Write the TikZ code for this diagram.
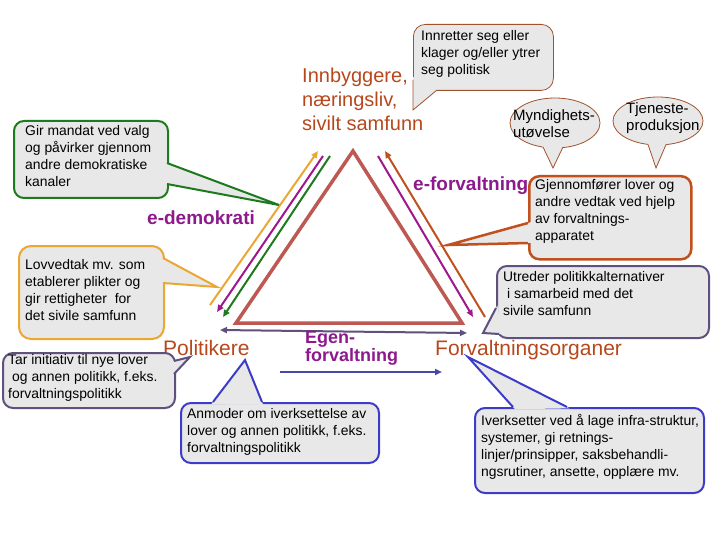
\documentclass[tikz,border=0pt]{standalone}
\usepackage{fontspec}
\setmainfont{Liberation Sans}
\usetikzlibrary{arrows.meta,calc,shapes.geometric}
\definecolor{cfill}{RGB}{232,232,232}
\definecolor{tri}{RGB}{190,88,82}
\definecolor{orng}{RGB}{236,166,50}
\definecolor{magn}{RGB}{160,22,140}
\definecolor{grn}{RGB}{30,122,30}
\definecolor{brn}{RGB}{192,80,28}
\definecolor{pgr}{RGB}{95,80,125}
\definecolor{blu}{RGB}{60,60,200}
\definecolor{blu2}{RGB}{72,72,168}
\definecolor{thinbr}{RGB}{160,82,45}
\definecolor{lbl}{RGB}{182,72,28}
\definecolor{pur}{RGB}{140,26,140}
\newcommand{\callptr}[5]{%
  \fill[cfill] ($(#3)!-3pt!(#4)$) -- (#4) -- ($(#5)!-3pt!(#4)$) -- cycle;
  \draw[#1,line width=#2,line join=miter] (#3) -- (#4) -- (#5);}
\begin{document}
\begin{tikzpicture}[x=1pt,y=-1pt,
  txt/.style={font=\fontsize{13.9}{16.8}\selectfont, align=left, inner sep=0pt, anchor=north west, text=black},
  etxt/.style={font=\fontsize{15}{17}\selectfont, align=left, inner sep=0pt, anchor=north west, text=black},
  cbox/.style={rectangle, rounded corners=10pt, fill=cfill, line width=2pt, inner sep=0pt, anchor=north west},
  ebox/.style={ellipse, fill=cfill, draw=thinbr, line width=0.8pt, inner sep=0pt},
  biglbl/.style={font=\fontsize{21}{24}\selectfont, text=lbl, inner sep=0pt, anchor=base west, align=left},
  purp/.style={font=\bfseries\fontsize{19}{17}\selectfont, text=pur, inner sep=0pt, anchor=base west, align=left},
  arr/.style={line width=2pt, -{Triangle[length=7pt,width=6pt]}},
  darr/.style={line width=2pt, {Triangle[length=7pt,width=6pt]}-{Triangle[length=7pt,width=6pt]}},
]
\useasboundingbox (0,0) rectangle (720,540);

% triangle
\coordinate (A) at (353,151);
\coordinate (BL) at (236,323);
\coordinate (BR) at (462,323);
\draw[tri, line width=3.5pt, line join=miter] (A) -- (BL) -- (BR) -- cycle;

% left side arrows
\coordinate (o1) at (210,305); \coordinate (o2) at (318,151);
\coordinate (m1) at (323,156); \coordinate (m2) at (217,312);
\coordinate (g1) at (330,156); \coordinate (g2) at (223,317);
\draw[arr, orng] (o1) -- (o2);
\draw[arr, magn] (m1) -- (m2);
\draw[arr, grn] (g1) -- (g2);
% right side arrows
\coordinate (rm1) at (378,156); \coordinate (rm2) at (473,317);
\coordinate (rb1) at (485,317); \coordinate (rb2) at (385,151);
\draw[arr, magn] (rm1) -- (rm2);
\draw[arr, brn] (rb1) -- (rb2);
% bottom arrows
\coordinate (p1) at (220,330); \coordinate (p2) at (467,333);
\draw[darr, pgr] (p1) -- (p2);
\coordinate (q1) at (280,372); \coordinate (q2) at (442,372);
\draw[arr, blu2] (q1) -- (q2);

% labels
\node[biglbl, font=\fontsize{20}{24}\selectfont, anchor=north west] (innb) at (302,68) {Innbyggere,\\næringsliv,\\sivilt samfunn};
\node[purp] (edem) at (147,225) {e-demokrati};
\node[purp] (eforv) at (413,191) {e-forvaltning};
\node[biglbl] (pol) at (163,355) {Politikere};
\node[purp, font=\bfseries\fontsize{18}{16.5}\selectfont, anchor=north west] (egen) at (305,331) {Egen-\\forvaltning};
\node[biglbl] (forv) at (435,355) {Forvaltningsorganer};

% green callout
\node[cbox, draw=grn, minimum width=154pt, minimum height=77pt] (gbox) at (13,120) {};
\coordinate (gtip) at (279,205);
\callptr{grn}{2pt}{167,163}{gtip}{167,184}
\node[txt] (gtxt) at (25,125.5) {Gir mandat ved valg\\og påvirker gjennom\\andre demokratiske\\kanaler};

% top callout
\node[cbox, draw=thinbr, line width=0.8pt, rounded corners=12pt, minimum width=140pt, minimum height=66pt] (tbox) at (413,24) {};
\coordinate (ttip) at (413,110);
\callptr{thinbr}{0.8pt}{413,80}{ttip}{437,90}
\node[txt] (ttxt) at (421,30.5) {Innretter seg eller\\klager og/eller ytrer\\seg politisk};

% ellipses
\node[ebox, minimum width=90pt, minimum height=50pt] (mell) at (555,123) {};
\coordinate (mtip) at (553,168);
\callptr{thinbr}{0.8pt}{543,147}{mtip}{563,147}
\node[etxt] (mtxt) at (513,109) {Myndighets-\\utøvelse};
\node[ebox, minimum width=90pt, minimum height=48pt] (tell) at (658,121) {};
\coordinate (tjtip) at (656,168);
\callptr{thinbr}{0.8pt}{648,144.4}{tjtip}{666,144.6}
\node[etxt] (tjtxt) at (626,102) {Tjeneste-\\produksjon};

% Gjennomfoerer callout
\node[cbox, draw=brn, line width=2.5pt, minimum width=162pt, minimum height=83pt] (gjbox) at (528,175) {};
\coordinate (gjtip) at (448,245);
\callptr{brn}{2.5pt}{528,223}{gjtip}{528,243}
\node[txt] (gjtxt) at (535,179.5) {Gjennomfører lover og\\andre vedtak ved hjelp\\av forvaltnings-\\apparatet};

% Utreder callout
\node[cbox, draw=pgr, minimum width=212pt, minimum height=72pt] (utbox) at (496,265) {};
\coordinate (uttip) at (483,333);
\callptr{pgr}{2pt}{496,308}{uttip}{499,334}
\node[txt] (uttxt) at (503,271.5) {Utreder politikkalternativer\\\hspace{4pt}i samarbeid med det\\sivile samfunn};

% Lovvedtak callout
\node[cbox, draw=orng, rounded corners=12pt, minimum width=145pt, minimum height=93pt] (lvbox) at (18,245) {};
\coordinate (lvtip) at (217,287);
\callptr{orng}{2pt}{163,258}{lvtip}{163,283}
\node[txt] (lvtxt) at (25,259.5) {Lovvedtak mv. som\\etablerer plikter og\\gir rettigheter\ \ for\\det sivile samfunn};

% Tar initiativ callout
\node[cbox, draw=pgr, minimum width=172pt, minimum height=55pt] (tibox) at (2,352) {};
\coordinate (titip) at (190,357);
\callptr{pgr}{2pt}{174,361}{titip}{174,374}
\node[txt] (titxt) at (8,354.5) {Tar initiativ til nye lover\\\hspace{4pt}og annen politikk, f.eks.\\forvaltningspolitikk};

% Anmoder callout
\node[cbox, draw=blu, minimum width=198pt, minimum height=60pt] (ambox) at (180,402) {};
\coordinate (amtip) at (245,360);
\callptr{blu}{2pt}{213,402}{amtip}{262,402}
\node[txt] (amtxt) at (187,408.5) {Anmoder om iverksettelse av\\lover og annen politikk, f.eks.\\forvaltningspolitikk};

% Iverksetter callout
\node[cbox, draw=blu, minimum width=229pt, minimum height=85pt] (ivbox) at (474,407) {};
\coordinate (ivtip) at (468,357);
\callptr{blu}{2pt}{513,407}{ivtip}{567,407}
\node[txt] (ivtxt) at (481,414.5) {Iverksetter ved å lage infra-struktur,\\systemer, gi retnings-\\linjer/prinsipper, saksbehandli-\\ngsrutiner, ansette, opplære mv.};
\end{tikzpicture}
\end{document}
